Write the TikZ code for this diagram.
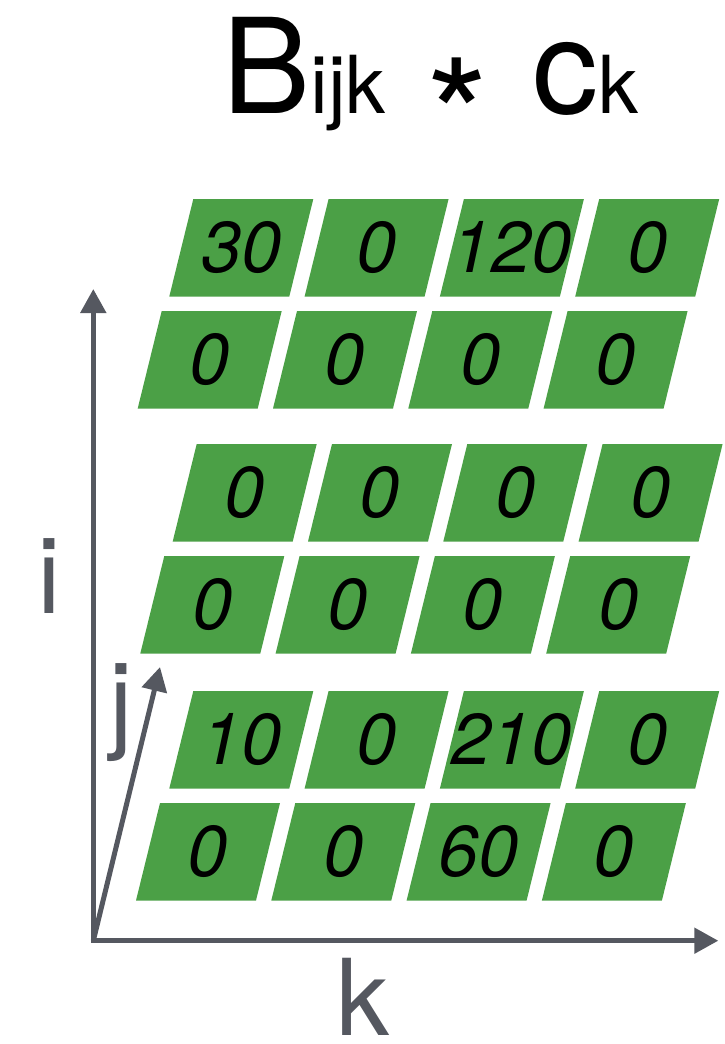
\documentclass[tikz,border=0pt]{standalone}
\usepackage{fontspec}
\setmainfont{TeX Gyre Heros}
\usetikzlibrary{arrows.meta}
\definecolor{vert}{RGB}{75,160,70}
\definecolor{axe}{RGB}{85,88,96}
\tikzset{chiffre/.style={font=\fontsize{36}{36}\selectfont\itshape,inner sep=0pt},
         etiq/.style={font=\fontsize{53}{53}\selectfont,text=axe,inner sep=0pt,anchor=base,text depth=0pt},
         fleche/.style={draw=axe,line width=2.5pt,line join=miter,-{Triangle[length=12pt,width=12.5pt]}}}
\newcommand{\grand}{\fontsize{66}{66}\selectfont}
\newcommand{\petit}{\fontsize{40}{40}\selectfont}
\newcommand{\etoile}{\raisebox{-30.5pt}{\fontsize{80}{80}\selectfont *}}
\newcommand{\rangee}[4]{%
  \foreach \val [count=\n from 0] in {#4}{%
    \fill[vert] (#1+\n*135.3,#2) -- ++(120,0) -- ++(-24,97.5) -- ++(-120,0) -- cycle;
    \node[chiffre] (#3-\n) at (#1+\n*135.3+48,#2+48.75) {\val};}}

\begin{document}
\begin{tikzpicture}[x=0.5pt,y=-0.5pt]
  \useasboundingbox (0,0) rectangle (724,1044);
  % title
  \node[anchor=base west,inner sep=0pt,text depth=0pt] (titre) at (222,113)
    {\grand B\petit ijk\hspace{20.5pt}\etoile\hspace{21.5pt}\grand c\petit k};
  % axes
  \coordinate (o) at (93.3,940.7);
  \coordinate (itip) at (93.3,289);
  \coordinate (ktip) at (718.3,940.7);
  \coordinate (jtip) at (160,667);
  \draw[fleche,{Triangle[length=12pt,width=12.5pt]}-{Triangle[length=12pt,width=12.5pt]}] (itip) -- (o) -- (ktip);
  \draw[fleche] (o) -- (jtip);
  \node[etiq] (ilab) at (49,613) {i};
  \node[etiq] (jlab) at (121,738) {j};
  \node[etiq] (klab) at (363,1035) {k};
  % layers
  \rangee{193.3}{199}{a1}{30,0,120,0}
  \rangee{161.7}{311}{a2}{0,0,0,0}
  \rangee{196.7}{444}{b1}{0,0,0,0}
  \rangee{164.3}{556}{b2}{0,0,0,0}
  \rangee{193.3}{691}{c1}{10,0,210,0}
  \rangee{160}{803}{c2}{0,0,60,0}
\end{tikzpicture}
\end{document}
